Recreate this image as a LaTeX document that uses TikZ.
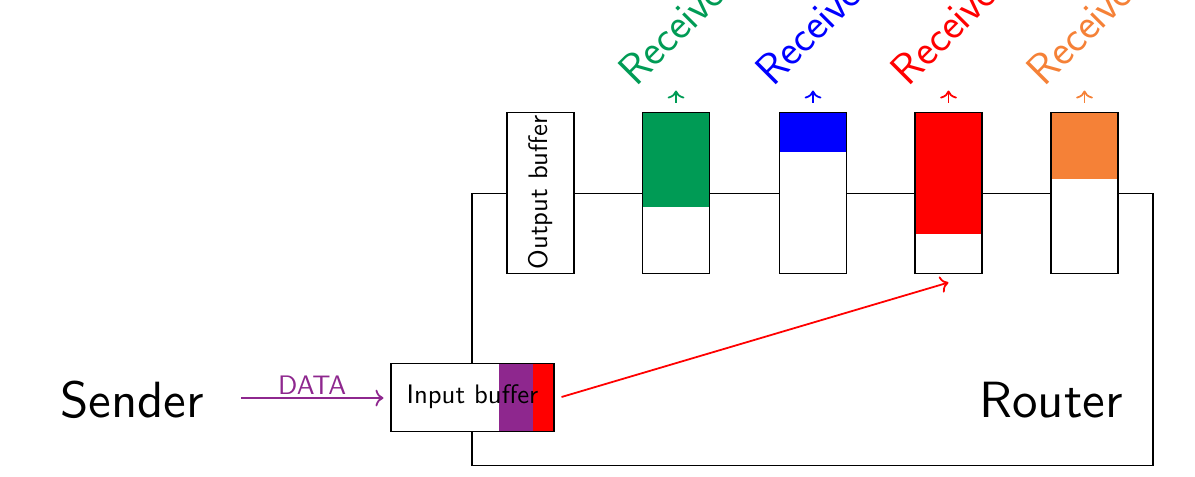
\documentclass[tikz,border=0pt]{standalone}
\usepackage{fontspec}
\usetikzlibrary{arrows.meta}
\newfontfamily\lmsten{lmsans10-regular.otf}
\definecolor{rgreen}{RGB}{0,155,85}
\definecolor{rblue}{RGB}{0,0,255}
\definecolor{rred}{RGB}{255,0,0}
\definecolor{rorange}{RGB}{245,129,55}
\definecolor{dpurple}{RGB}{142,39,142}
\def\px{0.3926pt}
\begin{document}
\begin{tikzpicture}[x=0.3926pt, y=-0.3926pt, font=\sffamily\fontsize{10.5}{12.5}\selectfont,
  buf/.style={draw, fill=white, minimum width=67*\px, minimum height=161*\px, inner sep=0pt},
  level/.style 2 args={path picture={\fill[#1] (path picture bounding box.north west) rectangle ([yshift=-#2*\px]path picture bounding box.north east);}},
  big/.style={font=\lmsten\fontsize{20}{24}\selectfont},
  rlabel/.style={rotate=45, anchor=base west, inner sep=0pt, font=\sffamily\fontsize{17}{20}\selectfont},
  flow/.style={->, line width=0.7pt}]
\useasboundingbox (0,0) rectangle (1195,476);
% router body
\node[draw, minimum width=681*\px, minimum height=272*\px, inner sep=0pt] (router) at (812.5,329) {};
\node[big] (routerlabel) at (1051,400) {Router};
\node[big] (sender) at (132,400) {Sender};
% output buffer
\node[draw, fill=white, rotate=90, minimum width=161*\px, minimum height=67*\px, inner sep=0pt] (ob) at (540.5,192.5) {Output buffer};
% receiver buffers
\node[buf, level={rgreen}{95}] (r1) at (676,192.5) {};
\node[buf, level={rblue}{40}] (r2) at (813,192.5) {};
\node[buf, level={rred}{122}] (r3) at (948.5,192.5) {};
\node[buf, level={rorange}{67}] (r4) at (1084.5,192.5) {};
\foreach \i/\c in {1/rgreen,2/rblue,3/rred,4/rorange}{
  \coordinate (s\i) at ([yshift=9*\px]r\i.north);
  \coordinate (t\i) at ([yshift=21*\px]r\i.north);
  \draw[\c, flow] (s\i) -- (t\i);
  \node[rlabel, text=\c] (l\i) at ([xshift=-40*\px, yshift=24*\px]r\i.north) {Receiver};
}
% input buffer
\node[draw, fill=white, minimum width=163*\px, minimum height=68*\px, inner sep=0pt,
  path picture={
    \fill[dpurple] ([xshift=-55*\px]path picture bounding box.north east) rectangle ([xshift=-21*\px]path picture bounding box.south east);
    \fill[rred] ([xshift=-21*\px]path picture bounding box.north east) rectangle (path picture bounding box.south east);}] (ib) at (472.5,397) {Input buffer};
% data arrow
\coordinate (dstart) at (241,398);
\draw[dpurple, flow] (dstart) -- ([xshift=-7*\px, yshift=-1*\px]ib.west) node[midway, anchor=base, yshift=1.2pt, text=dpurple] {DATA};
% routing arrow
\draw[rred, flow] ([xshift=7*\px]ib.east) -- ([yshift=-9*\px]r3.south);
\end{tikzpicture}
\end{document}
